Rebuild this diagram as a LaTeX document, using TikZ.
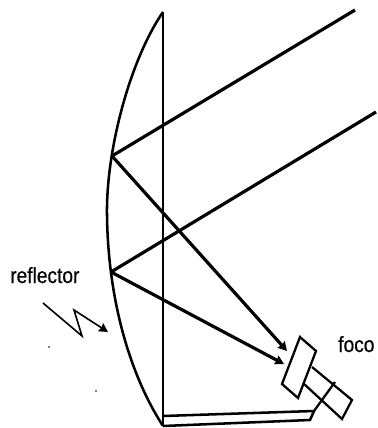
\documentclass[tikz,border=0pt]{standalone}
\usepackage{fontspec}
\setmainfont[FakeStretch=0.87, FakeBold=0.5]{Liberation Sans}
\usetikzlibrary{arrows.meta, calc}

\begin{document}
\begin{tikzpicture}[
  x=0.75pt, y=-0.75pt,
  mirror/.style={line width=1.9pt, line join=round},
  axis/.style={line width=2.2pt},
  ray/.style={line width=2.4pt},
  rayarr/.style={ray, -{Stealth[length=6.5pt, width=7pt, inset=0.5pt]}},
  lamp/.style={line width=1.7pt, line join=miter},
  lbl/.style={font=\fontsize{16.5}{18}\selectfont, inner sep=0pt, anchor=base west},
  bolt/.style={line width=1.2pt, -{Stealth[length=6.5pt, width=7pt, inset=0.5pt]}},
]

  \useasboundingbox (0,0) rectangle (378,428);

  \coordinate (top) at (163,12);
  \coordinate (bot) at (163,426);
  \coordinate (hita) at (112,156);
  \coordinate (hitb) at (111,272);
  \coordinate (raya) at (355,10);
  \coordinate (rayb) at (376,112);
  \coordinate (tipa) at (287,351);
  \coordinate (tipb) at (284,364);

  \draw[mirror] (top) .. controls (130,60) and (106,150) .. (107,215)
    .. controls (108,300) and (130,375) .. (bot);
  \draw[axis] (top) -- (bot);

  \draw[ray] (hita) -- (raya);
  \draw[ray] (hitb) -- (rayb);
  \draw[rayarr] (hita) -- (tipa);
  \draw[rayarr] (hitb) -- (tipb);

  % lamp
  \draw[lamp] (300,337) -- (316,351) -- (298,398) -- (282,384) -- cycle;
  \draw[lamp] (312,367) -- (352,400) -- (342,419) -- (303,383);
  \draw[lamp] (335,382) -- (314,411);

  % base
  \draw[mirror] (163,416) -- (314,411) -- (310,420) -- (bot);

  \node[lbl] (reflector) at (10,283) {reflector};
  \node[lbl] (foco) at (338,352) {foco};

  \coordinate (zz1) at (43,303);
  \coordinate (zz2) at (82,336);
  \coordinate (zz3) at (74,310);
  \coordinate (zz4) at (108,332);
  \draw[bolt] (zz1) -- (zz2) -- (zz3) -- (zz4);

  \fill (49,347) circle (0.6pt);
  \fill (96,391) circle (0.7pt);

\end{tikzpicture}
\end{document}
